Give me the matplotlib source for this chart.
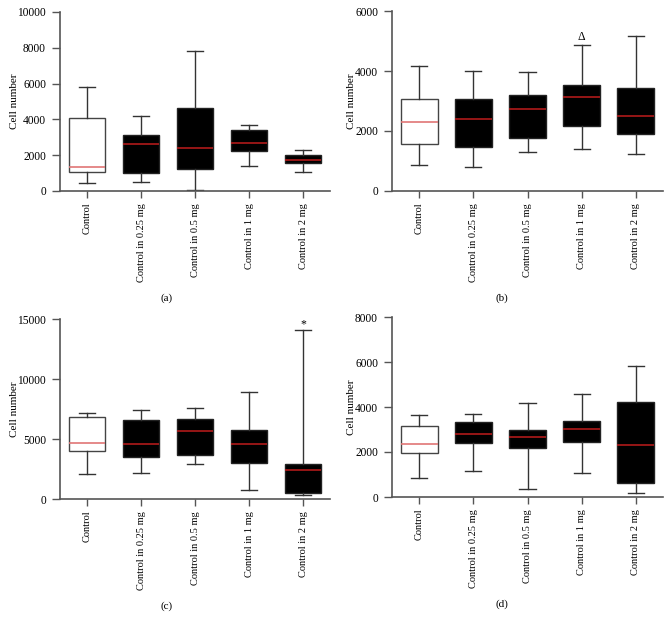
import matplotlib.pyplot as plt

plt.rcParams['font.family'] = ['Liberation Serif', 'DejaVu Serif']

groups = ['Control', 'Control in 0.25 mg', 'Control in 0.5 mg', 'Control in 1 mg', 'Control in 2 mg']

# five-number summaries per panel: (low whisker, Q1, median, Q3, high whisker)
a_low = [420, 500, 50, 1400, 1050]
a_q1 = [1050, 1000, 1250, 2250, 1550]
a_med = [1350, 2600, 2400, 2680, 1720]
a_q3 = [4100, 3150, 4650, 3400, 2000]
a_high = [5800, 4200, 7800, 3700, 2300]

b_low = [870, 790, 1300, 1410, 1240]
b_q1 = [1550, 1450, 1780, 2170, 1910]
b_med = [2300, 2400, 2740, 3120, 2490]
b_q3 = [3070, 3050, 3200, 3520, 3440]
b_high = [4150, 4000, 3980, 4860, 5180]

c_low = [2110, 2190, 2920, 780, 310]
c_q1 = [3970, 3500, 3690, 2970, 500]
c_med = [4670, 4560, 5640, 4580, 2390]
c_q3 = [6800, 6610, 6640, 5780, 2920]
c_high = [7200, 7440, 7580, 8890, 14060]

d_low = [840, 1140, 370, 1050, 180]
d_q1 = [1940, 2400, 2190, 2430, 620]
d_med = [2340, 2780, 2680, 3040, 2330]
d_q3 = [3140, 3330, 2980, 3390, 4210]
d_high = [3630, 3690, 4160, 4560, 5810]

panels = [
    ('(a)', a_low, a_q1, a_med, a_q3, a_high, 10000, 2000, None),
    ('(b)', b_low, b_q1, b_med, b_q3, b_high, 6000, 2000, (3, '\u0394', 5150)),
    ('(c)', c_low, c_q1, c_med, c_q3, c_high, 15000, 5000, (4, '*', 14550)),
    ('(d)', d_low, d_q1, d_med, d_q3, d_high, 8000, 2000, None),
]

# axes boxes in pixels: left, right, top, bottom
boxes_px = [(60, 330, 12, 191), (392, 663, 11, 191), (60, 330, 319, 499), (392, 663, 317, 497)]
caption_x = [167, 502, 167, 502]

W, H = 669, 618
fig = plt.figure(figsize=(W / 100, H / 100), dpi=100)

for (cap, lo, q1, med, q3, hi, ymax, ystep, mark), (l, r, t, b), capx in zip(panels, boxes_px, caption_x):
    ax = fig.add_axes([l / W, 1 - b / H, (r - l) / W, (b - t) / H])
    stats = []
    for i in range(len(groups)):
        stats.append(dict(whislo=lo[i], q1=q1[i], med=med[i], q3=q3[i], whishi=hi[i], fliers=[]))
    bp = ax.bxp(stats, positions=range(len(groups)), widths=0.68, patch_artist=True,
                showfliers=False, capwidths=0.3,
                whiskerprops=dict(color='#333333', linewidth=1.0),
                capprops=dict(color='#333333', linewidth=1.0))
    for i, box in enumerate(bp['boxes']):
        if i == 0:
            box.set_facecolor('white')
            box.set_edgecolor('#444444')
        else:
            box.set_facecolor('black')
            box.set_edgecolor('#222222')
        box.set_linewidth(1.0)
    for i, m in enumerate(bp['medians']):
        m.set_color('#e07575' if i == 0 else '#b01a1a')
        m.set_linewidth(1.2)

    ax.set_xlim(-0.5, len(groups) - 0.5)
    ax.set_ylim(0, ymax)
    ax.set_yticks(range(0, ymax + 1, ystep))
    ax.set_xticks(range(len(groups)))
    ax.set_xticklabels(groups, rotation=90, fontsize=7.5)
    ax.tick_params(axis='y', labelsize=8.3, length=6, width=1, pad=4, color='#555555')
    ax.tick_params(axis='x', length=5, width=1, color='#555555')
    for s in ['top', 'right']:
        ax.spines[s].set_visible(False)
    for s in ['left', 'bottom']:
        ax.spines[s].set_color('#555555')
        ax.spines[s].set_linewidth(1.2)
    ax.set_ylabel('Cell number', fontsize=8, labelpad=-1)

    if mark is not None:
        ax.text(mark[0], mark[2], mark[1], ha='center', va='center', fontsize=8.5)

    fig.text(capx / W, 1 - (b + 107) / H, cap, ha='center', va='center', fontsize=8)

fig.savefig('out.png', dpi=100)
